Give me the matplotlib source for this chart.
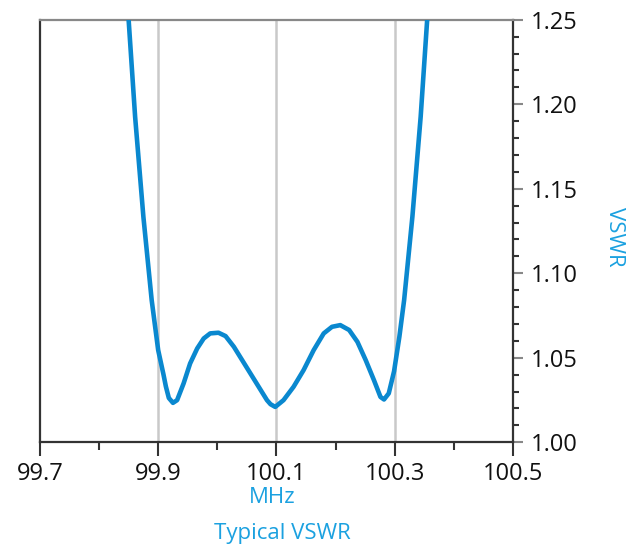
import matplotlib
matplotlib.use('Agg')
import matplotlib.pyplot as plt
from matplotlib.ticker import MultipleLocator

plt.rcParams['font.family'] = ['Open Sans', 'DejaVu Sans']

# values
freq_mhz = [99.850, 99.861, 99.875, 99.889, 99.900, 99.909, 99.913, 99.918,
            99.925, 99.932, 99.943, 99.954, 99.966, 99.977, 99.988, 100.002,
            100.014, 100.028, 100.042, 100.056, 100.070, 100.084, 100.090,
            100.098, 100.112, 100.129, 100.146, 100.163, 100.180, 100.194,
            100.208, 100.223, 100.237, 100.251, 100.265, 100.276, 100.282,
            100.290, 100.299, 100.308, 100.316, 100.330, 100.344, 100.355]
vswr = [1.2500, 1.1925, 1.1333, 1.0841, 1.0545, 1.0400, 1.0330, 1.0262,
        1.0233, 1.0249, 1.0348, 1.0466, 1.0555, 1.0614, 1.0644, 1.0648,
        1.0628, 1.0565, 1.0486, 1.0407, 1.0328, 1.0249, 1.0225,
        1.0209, 1.0249, 1.0328, 1.0427, 1.0545, 1.0644, 1.0683,
        1.0693, 1.0664, 1.0594, 1.0486, 1.0367, 1.0268, 1.0253,
        1.0289, 1.0420, 1.0625, 1.0841, 1.1335, 1.1927, 1.2500]
x_ticks = [99.7, 99.9, 100.1, 100.3, 100.5]
grid_x = [99.9, 100.1, 100.3]
y_ticks = [1.00, 1.05, 1.10, 1.15, 1.20, 1.25]

blue_line = '#0a88cf'
blue_text = '#1ba1e0'
dark = '#333333'

fig = plt.figure(figsize=(6.34, 5.48), dpi=100)
ax = fig.add_axes([0.063, 0.193, 0.746, 0.771])

for g in grid_x:
    ax.axvline(g, color='#c9c9c9', lw=1.8, zorder=1)

ax.plot(freq_mhz, vswr, color=blue_line, lw=3.3, zorder=3,
        solid_joinstyle='round', solid_capstyle='round')

ax.set_xlim(99.7, 100.5)
ax.set_ylim(1.0, 1.25)
ax.set_xticks(x_ticks)
ax.set_xticklabels([f"{v:g}" for v in x_ticks])
ax.xaxis.set_minor_locator(MultipleLocator(0.1))
ax.set_yticks(y_ticks)
ax.set_yticklabels([f"{v:.2f}" for v in y_ticks])
ax.yaxis.set_minor_locator(MultipleLocator(0.01))
ax.yaxis.tick_right()

ax.tick_params(axis='x', which='major', direction='out', length=10, width=1.5,
               color=dark, labelsize=17, pad=4, labelcolor='#111111')
ax.tick_params(axis='x', which='minor', direction='out', length=6, width=1.5, color=dark)
ax.tick_params(axis='y', which='major', direction='out', length=7, width=1.5,
               color='#888888', labelsize=17, pad=6, labelcolor='#111111')
ax.tick_params(axis='y', which='minor', direction='out', length=4, width=1.5, color=dark)

for side in ['left', 'bottom', 'right']:
    ax.spines[side].set_color(dark)
    ax.spines[side].set_linewidth(1.6)
ax.spines['top'].set_color('#888888')
ax.spines['top'].set_linewidth(1.6)

fig.text(0.986, 0.567, 'VSWR', rotation=270, color=blue_text, fontsize=16,
         ha='right', va='center')
fig.text(0.43, 0.093, 'MHz', color=blue_text, fontsize=16, ha='center', va='center')
fig.text(0.446, 0.027, 'Typical VSWR', color=blue_text, fontsize=16, ha='center', va='center')

fig.savefig('out.png', dpi=100)
